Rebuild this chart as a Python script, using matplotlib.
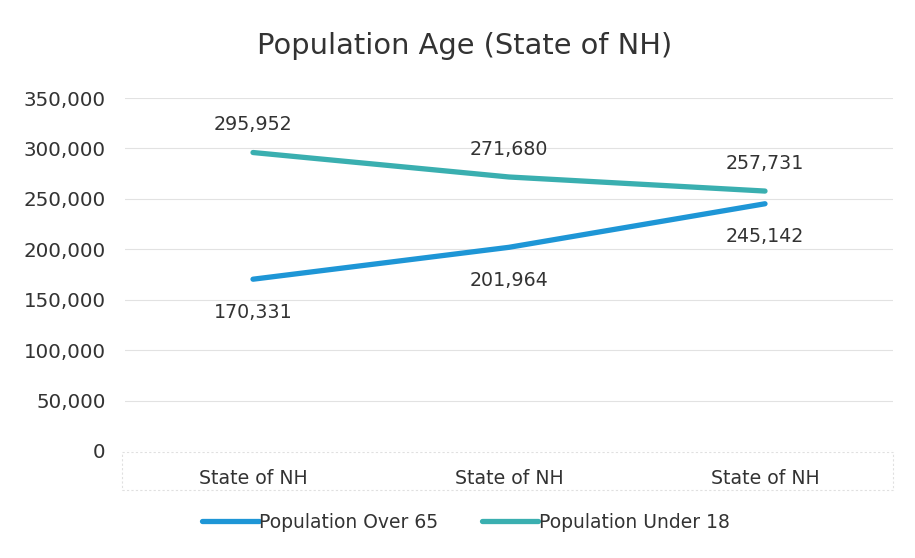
import matplotlib.pyplot as plt
import matplotlib.patches as patches
import numpy as np

# data
categories = ["State of NH", "State of NH", "State of NH"]
over_65 = [170331, 201964, 245142]
under_18 = [295952, 271680, 257731]
y_ticks = [0, 50000, 100000, 150000, 200000, 250000, 300000, 350000]

c_over = "#1e96d6"
c_under = "#3aafb0"
txt = '#333333'

plt.rcParams['font.family'] = ['DejaVu Sans']

fig = plt.figure(figsize=(9.15, 5.58), dpi=100)
ax = fig.add_axes([125/915, 1 - 451/558, (893-125)/915, (451-98)/558])

x = np.arange(len(categories))
ax.plot(x, over_65, color=c_over, lw=3.8, solid_capstyle='round', label="Population Over 65")
ax.plot(x, under_18, color=c_under, lw=3.8, solid_capstyle='round', label="Population Under 18")

# value labels
for i, v in enumerate(over_65):
    ax.annotate(f"{v:,}", (i, v), xytext=(0, -17), textcoords='offset points',
                ha='center', va='top', fontsize=13.7, color=txt)
for i, v in enumerate(under_18):
    ax.annotate(f"{v:,}", (i, v), xytext=(0, 13), textcoords='offset points',
                ha='center', va='bottom', fontsize=13.7, color=txt)

ax.set_xlim(-0.5, 2.5)
ax.set_ylim(0, 350000)
ax.set_yticks(y_ticks)
ax.set_yticklabels([f"{t:,}" for t in y_ticks], fontsize=14.3, color=txt)
ax.set_xticks(x)
ax.set_xticklabels(categories, fontsize=13.6, color=txt)
ax.tick_params(length=0, pad=14)
ax.tick_params(axis='x', pad=13)
ax.grid(axis='y', color='#e2e2e2', lw=0.8)
ax.set_axisbelow(True)
for s in ax.spines.values():
    s.set_visible(False)

# faint box around category labels
fig.add_artist(patches.Rectangle((122/915, 1 - 490/558), (893-122)/915, (490-452)/558,
                                 transform=fig.transFigure, fill=False,
                                 ec='#e0e0e0', lw=0.8, ls=(0, (2, 2))))

fig.text(465/915, 1 - 46/558, "Population Age (State of NH)", ha='center', va='center',
         fontsize=20.8, color=txt)

fig.legend(loc='center', bbox_to_anchor=(466/915, 1 - 522/558), ncol=2, frameon=False,
           fontsize=13.5, handlelength=3.0, handletextpad=0.05, columnspacing=2.3,
           labelcolor=txt)

fig.savefig("out.png", dpi=100, facecolor='white')
